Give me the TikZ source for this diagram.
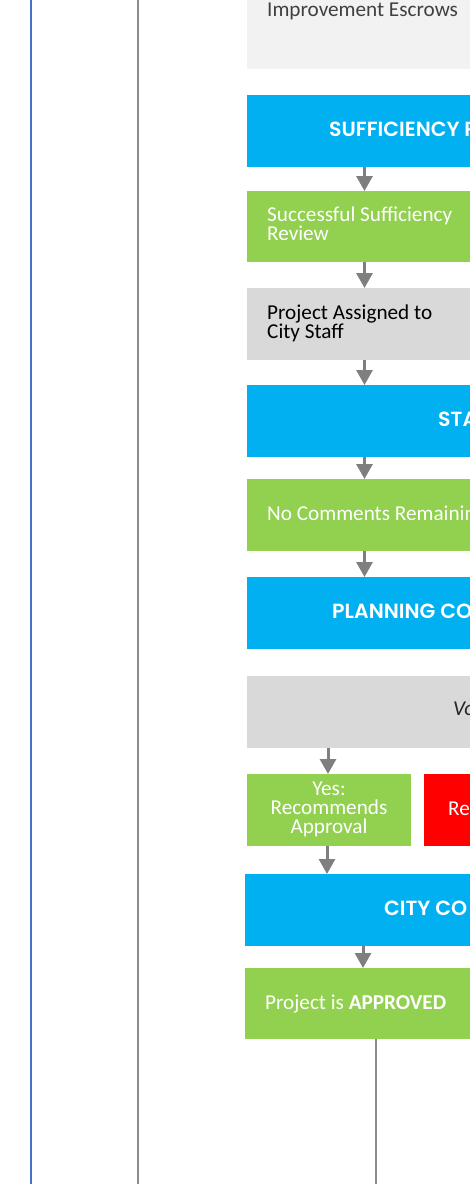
\documentclass[tikz,border=0pt]{standalone}
\usepackage{fontspec}
\setmainfont{Carlito}
\newfontfamily\headfont{Poppins}[UprightFont={* SemiBold}]
\usetikzlibrary{arrows.meta}
\definecolor{hblue}{HTML}{00B0F0}
\definecolor{hgreen}{HTML}{92D050}
\definecolor{hgray}{HTML}{D9D9D9}
\definecolor{hlight}{HTML}{F2F2F2}
\definecolor{hred}{HTML}{FF0000}
\definecolor{harrow}{HTML}{7F7F7F}
\definecolor{lblue}{HTML}{4472C4}
\definecolor{lgray}{HTML}{8C8C8C}
\definecolor{dtext}{HTML}{404040}
\tikzset{
  box/.style={rectangle, draw=none, inner sep=0pt, anchor=north west, minimum height=72pt},
  head/.style={anchor=base west, inner sep=0pt, text=white, font=\headfont\fontsize{20.5}{22}\selectfont},
  body/.style={anchor=base west, inner sep=0pt, font=\fontsize{21.2}{18}\selectfont},
  arr/.style={harrow, line width=3pt, -{Triangle[width=16pt,length=15pt]}},
  lane/.style={line width=2pt}
}
\begin{document}
\begin{tikzpicture}[x=1pt,y=-1pt]
\useasboundingbox (0,0) rectangle (470,1184);
\clip (0,0) rectangle (470,1184);
% lane lines
\coordinate (l1t) at (30.5,0); \coordinate (l1b) at (30.5,1184);
\coordinate (l2t) at (137.5,0); \coordinate (l2b) at (137.5,1184);
\draw[lane, lblue] (l1t) -- (l1b);
\draw[lane, lgray] (l2t) -- (l2b);
% boxes
\node[box, fill=hlight, minimum width=240pt, minimum height=80pt] (b0) at (247,-11) {};
\node[box, fill=hblue, minimum width=240pt] (b1) at (247,95) {};
\node[box, fill=hgreen, minimum width=240pt, minimum height=71pt] (b2) at (247,191) {};
\node[box, fill=hgray, minimum width=240pt] (b3) at (247,288) {};
\node[box, fill=hblue, minimum width=240pt] (b4) at (247,385) {};
\node[box, fill=hgreen, minimum width=240pt] (b5) at (247,479) {};
\node[box, fill=hblue, minimum width=240pt] (b6) at (247,577) {};
\node[box, fill=hgray, minimum width=240pt] (b7) at (247,676) {};
\node[box, fill=hgreen, minimum width=164pt] (b8) at (247,774) {};
\node[box, fill=hred, minimum width=60pt] (b9) at (424,774) {};
\node[box, fill=hblue, minimum width=240pt] (b10) at (245,874) {};
\node[box, fill=hgreen, minimum width=240pt, minimum height=71pt] (b11) at (245,968) {};
% texts
\node[body, text=dtext] (t0) at (267,16) {Improvement Escrows};
\node[head] (t1) at (329,136) {SUFFICIENCY R};
\node[body, text=white] (t2a) at (267,221.5) {Successful Sufficiency};
\node[body, text=white] (t2b) at (267,240) {Review};
\node[body, text=black] (t3a) at (267,319) {Project Assigned to};
\node[body, text=black] (t3b) at (267,338) {City Staff};
\node[head] (t4) at (438,426) {STA};
\node[body, text=white] (t5) at (267,520) {No Comments Remainin};
\node[head] (t6) at (332,618) {PLANNING CO};
\node[body, text=black!85, font=\itshape\fontsize{21.2}{18}\selectfont] (t7) at (453,715) {Vo};
\node[body, text=white, anchor=base] (t8a) at (329,795) {Yes:};
\node[body, text=white, anchor=base] (t8b) at (329,814.5) {Recommends};
\node[body, text=white, anchor=base] (t8c) at (329,833.5) {Approval};
\node[body, text=white] (t9) at (448,815) {Re};
\node[head] (t10) at (384,915) {CITY CO};
\node[body, text=white] (t11) at (265,1009) {Project is \textbf{APPROVED}};
% arrows
\coordinate (ax1) at (364.5,0);
\coordinate (ax2) at (328,0);
\coordinate (ax3) at (327,0);
\coordinate (ax4) at (363,0);
\draw[arr] (b1.south -| ax1) -- (b2.north -| ax1);
\draw[arr] (b2.south -| ax1) -- (b3.north -| ax1);
\draw[arr] (b3.south -| ax1) -- (b4.north -| ax1);
\draw[arr] (b4.south -| ax1) -- (b5.north -| ax1);
\draw[arr] (b5.south -| ax1) -- (b6.north -| ax1);
\draw[arr] (b7.south -| ax2) -- (b8.north -| ax2);
\draw[arr] (b8.south -| ax3) -- (b10.north -| ax3);
\draw[arr] (b10.south -| ax4) -- (b11.north -| ax4);
% bottom line
\coordinate (l3) at (375.5,1184);
\draw[lane, lgray] (b11.south -| l3) -- (l3);
\end{tikzpicture}
\end{document}
